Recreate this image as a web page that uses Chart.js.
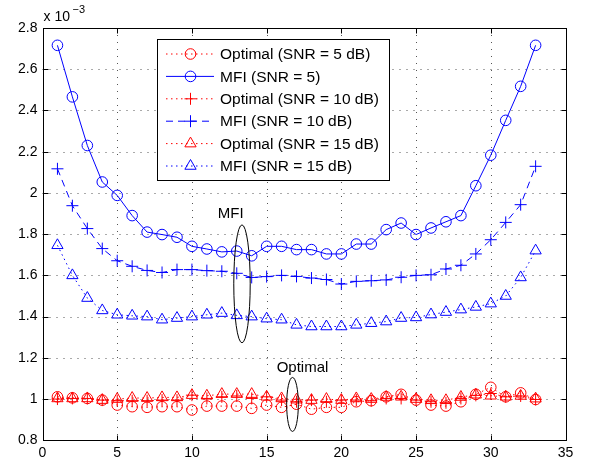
<!DOCTYPE html>
<html>
<head>
<meta charset="utf-8">
<script src="https://cdn.jsdelivr.net/npm/chart.js@4"></script>
<style>
  html, body { margin: 0; padding: 0; background: #fff; }
  #wrap { width: 590px; height: 466px; position: relative; }
</style>
</head>
<body>
<div id="wrap"><canvas id="chart"></canvas></div>
<script>
// values are in units of 10^-3
const xs = [1, 2, 3, 4, 5, 6, 7, 8, 9, 10, 11, 12, 13, 14, 15, 16, 17,
            18, 19, 20, 21, 22, 23, 24, 25, 26, 27, 28, 29, 30, 31, 32, 33];

const optimal5 = [1.011, 1.006, 1.003, 0.995, 0.971, 0.963, 0.960, 0.963, 0.963, 0.947, 0.966,
                  0.966, 0.966, 0.955, 0.971, 0.960, 0.975, 0.951, 0.960, 0.960, 0.987, 0.992,
                  1.011, 1.023, 0.995, 0.971, 0.966, 0.987, 1.023, 1.057, 1.011, 1.030, 0.998];
const mfi5 = [2.716, 2.466, 2.230, 2.053, 1.988, 1.890, 1.810, 1.798, 1.785, 1.741, 1.728,
              1.714, 1.718, 1.695, 1.741, 1.741, 1.725, 1.725, 1.704, 1.704, 1.752, 1.752,
              1.822, 1.854, 1.798, 1.830, 1.860, 1.890, 2.035, 2.183, 2.352, 2.517, 2.716];
const optimal10 = [1.000, 1.003, 1.003, 0.995, 0.992, 0.992, 0.992, 0.995, 0.995, 1.019, 1.003,
                   1.011, 1.015, 1.003, 1.011, 0.995, 0.987, 0.995, 0.987, 0.995, 0.995, 0.992,
                   1.003, 1.003, 0.995, 0.987, 0.982, 1.003, 1.018, 1.027, 1.011, 1.015, 0.998];
const mfi10 = [2.117, 1.938, 1.827, 1.730, 1.671, 1.644, 1.624, 1.614, 1.628, 1.628, 1.623,
               1.620, 1.610, 1.590, 1.594, 1.600, 1.595, 1.587, 1.580, 1.558, 1.571, 1.574,
               1.578, 1.591, 1.600, 1.603, 1.631, 1.649, 1.704, 1.773, 1.857, 1.943, 2.129];
const optimal15 = [1.003, 1.003, 1.003, 0.995, 1.000, 1.005, 1.005, 1.008, 1.008, 1.019, 1.016,
                   1.024, 1.024, 1.024, 1.011, 1.003, 0.997, 0.995, 1.000, 0.995, 1.003, 1.000,
                   1.010, 1.011, 1.000, 0.994, 0.994, 1.010, 1.021, 1.016, 1.011, 1.015, 1.002];
const mfi15 = [1.746, 1.600, 1.490, 1.430, 1.409, 1.404, 1.400, 1.385, 1.393, 1.400, 1.409,
               1.417, 1.406, 1.400, 1.390, 1.385, 1.360, 1.352, 1.352, 1.352, 1.360, 1.368,
               1.376, 1.393, 1.396, 1.410, 1.422, 1.434, 1.447, 1.463, 1.500, 1.590, 1.720];

const seriesLabels = ['Optimal (SNR = 5 dB)', 'MFI (SNR = 5)', 'Optimal (SNR = 10 dB)',
                      'MFI (SNR = 10 dB)', 'Optimal (SNR = 15 dB)', 'MFI (SNR = 15 dB)'];

const xTicks = { min: 0, max: 35, step: 5 };
const yTicks = { min: 0.8, max: 2.8, step: 0.2 };

const RED = '#ff0000';
const BLUE = '#0000ff';
const DOTTED = [1.5, 3.5];
const DASHED = [7, 5];
const FONT = '"Liberation Sans", Arial, Helvetica, sans-serif';

const toPoints = vals => vals.map((v, i) => ({ x: xs[i], y: v }));

function series(label, vals, color, dash, style, radius) {
    return {
        label,
        data: toPoints(vals),
        borderColor: color,
        borderWidth: 1,
        borderDash: dash,
        backgroundColor: 'rgba(0,0,0,0)',
        pointStyle: style,
        pointRadius: radius,
        pointBorderColor: color,
        pointBackgroundColor: 'rgba(0,0,0,0)',
        pointBorderWidth: 1,
        tension: 0,
        fill: false
    };
}

const datasets = [
    series(seriesLabels[0], optimal5, RED, DOTTED, 'circle', 5.3),
    series(seriesLabels[1], mfi5, BLUE, [], 'circle', 5.3),
    series(seriesLabels[2], optimal10, RED, DOTTED, 'cross', 6),
    series(seriesLabels[3], mfi10, BLUE, DASHED, 'cross', 6),
    series(seriesLabels[4], optimal15, RED, DOTTED, 'triangle', 6.5),
    series(seriesLabels[5], mfi15, BLUE, DOTTED, 'triangle', 6.5)
];

// MATLAB-like axes: dotted grid, full box, inward ticks
const matlabAxes = {
    id: 'matlabAxes',
    beforeDatasetsDraw(chart) {
        const { ctx, chartArea: a, scales: { x, y } } = chart;
        const line = (x1, y1, x2, y2) => {
            ctx.beginPath();
            ctx.moveTo(x1, y1);
            ctx.lineTo(x2, y2);
            ctx.stroke();
        };
        ctx.save();
        ctx.strokeStyle = '#555';
        ctx.lineWidth = 1;
        ctx.setLineDash([1, 6]);
        x.ticks.forEach(t => {
            const px = Math.round(x.getPixelForValue(t.value)) + 0.5;
            if (px > a.left + 2 && px < a.right - 2) line(px, a.top, px, a.bottom);
        });
        y.ticks.forEach(t => {
            const py = Math.round(y.getPixelForValue(t.value)) + 0.5;
            if (py > a.top + 2 && py < a.bottom - 2) line(a.left, py, a.right, py);
        });
        ctx.setLineDash([]);
        ctx.strokeStyle = '#000';
        const L = Math.round(a.left) + 0.5, R = Math.round(a.right) + 0.5;
        const T = Math.round(a.top) + 0.5, B = Math.round(a.bottom) + 0.5;
        ctx.strokeRect(L, T, R - L, B - T);
        const len = 5;
        x.ticks.forEach(t => {
            const px = Math.round(x.getPixelForValue(t.value)) + 0.5;
            line(px, B, px, B - len);
            line(px, T, px, T + len);
        });
        y.ticks.forEach(t => {
            const py = Math.round(y.getPixelForValue(t.value)) + 0.5;
            line(L, py, L + len, py);
            line(R, py, R - len, py);
        });
        ctx.restore();
    },
    afterDraw(chart) {
        const { ctx, chartArea: a, scales: { x, y } } = chart;
        ctx.save();

        // exponent label
        ctx.fillStyle = '#000';
        ctx.textBaseline = 'alphabetic';
        ctx.textAlign = 'left';
        ctx.font = '14px ' + FONT;
        ctx.fillText('x 10', a.left + 1, a.top - 7);
        ctx.font = '11px ' + FONT;
        ctx.fillText('\u22123', a.left + 30, a.top - 15);

        // ellipses around the two groups of curves
        const ellipse = (cx, cy, rx, ry) => {
            const px = x.getPixelForValue(cx), py = y.getPixelForValue(cy);
            const rpx = Math.abs(x.getPixelForValue(cx + rx) - px);
            const rpy = Math.abs(y.getPixelForValue(cy + ry) - py);
            ctx.beginPath();
            ctx.ellipse(px, py, rpx, rpy, 0, 0, Math.PI * 2);
            ctx.stroke();
        };
        ctx.strokeStyle = '#000';
        ctx.lineWidth = 1;
        ellipse(13.35, 1.559, 0.55, 0.286);
        ellipse(16.73, 0.974, 0.39, 0.131);

        ctx.font = '15px ' + FONT;
        ctx.textAlign = 'center';
        ctx.textBaseline = 'middle';
        ctx.fillText('MFI', x.getPixelForValue(12.6), y.getPixelForValue(1.9));
        ctx.fillText('Optimal', x.getPixelForValue(17.4), y.getPixelForValue(1.15));

        // legend box
        const lx = a.left + 114.5, ly = a.top + 11, lw = 232, lh = 141;
        ctx.fillStyle = '#fff';
        ctx.fillRect(lx, ly, lw, lh);
        ctx.strokeStyle = '#000';
        ctx.strokeRect(Math.round(lx) + 0.5, Math.round(ly) + 0.5, lw, lh);
        chart.data.datasets.forEach((ds, i) => {
            const ry = ly + 15 + i * 22.4;
            ctx.strokeStyle = ds.borderColor;
            ctx.lineWidth = 1;
            ctx.setLineDash(ds.borderDash);
            ctx.beginPath();
            ctx.moveTo(lx + 9, ry);
            ctx.lineTo(lx + 57, ry);
            ctx.stroke();
            ctx.setLineDash([]);
            ctx.fillStyle = 'rgba(0,0,0,0)';
            Chart.helpers.drawPoint(ctx, {
                pointStyle: ds.pointStyle,
                radius: ds.pointRadius,
                rotation: 0,
                borderWidth: 1
            }, lx + 33.5, ry);
            ctx.fillStyle = '#000';
            ctx.font = '15.5px ' + FONT;
            ctx.textAlign = 'left';
            ctx.textBaseline = 'middle';
            ctx.fillText(ds.label, lx + 63, ry + 1);
        });
        ctx.restore();
    }
};

new Chart(document.getElementById('chart'), {
    type: 'line',
    data: { datasets },
    options: {
        responsive: true,
        maintainAspectRatio: false,
        animation: false,
        devicePixelRatio: 1,
        layout: { padding: { left: 0, top: 28, right: 24.5, bottom: 0 } },
        plugins: {
            legend: { display: false },
            tooltip: { enabled: false }
        },
        scales: {
            x: {
                type: 'linear',
                min: xTicks.min,
                max: xTicks.max,
                ticks: {
                    stepSize: xTicks.step,
                    color: '#000',
                    padding: 4,
                    font: { family: FONT, size: 14 }
                },
                grid: { display: false, drawTicks: false },
                border: { display: false },
                afterFit: s => { s.height = 25.7; }
            },
            y: {
                type: 'linear',
                min: yTicks.min,
                max: yTicks.max,
                ticks: {
                    stepSize: yTicks.step,
                    color: '#000',
                    padding: 5,
                    font: { family: FONT, size: 14 },
                    callback: v => String(+v.toFixed(1))
                },
                grid: { display: false, drawTicks: false },
                border: { display: false },
                afterFit: s => { s.width = 42.5; }
            }
        }
    },
    plugins: [matlabAxes]
});
</script>
</body>
</html>
